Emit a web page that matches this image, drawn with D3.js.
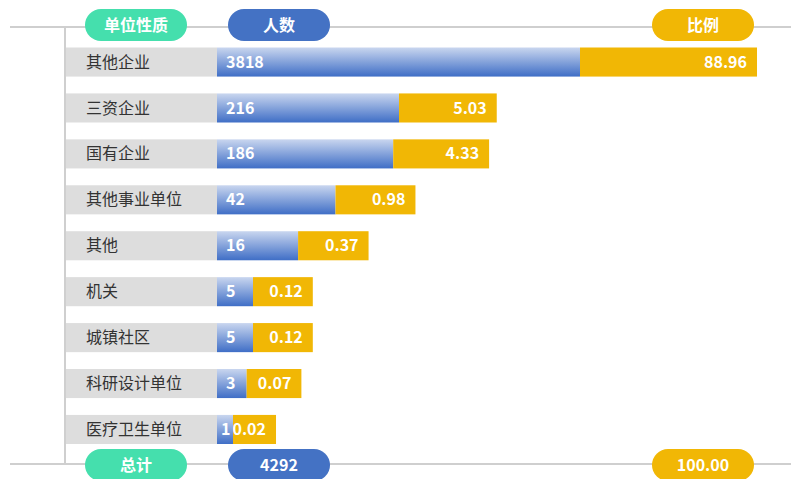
<!DOCTYPE html>
<html>
<head>
<meta charset="utf-8">
<script src="https://cdn.jsdelivr.net/npm/d3@7/dist/d3.min.js"></script>
<style>
  html, body { margin: 0; padding: 0; background: #ffffff; }
  svg { display: block; }
  text { font-family: "Noto Sans CJK SC", "Open Sans", sans-serif; }
</style>
</head>
<body>
<svg id="chart" width="801" height="479"></svg>
<script>
// Employment by unit type
const categories = ["其他企业", "三资企业", "国有企业", "其他事业单位", "其他", "机关", "城镇社区", "科研设计单位", "医疗卫生单位"];
const counts = [3818, 216, 186, 42, 16, 5, 5, 3, 1];
const ratios = [88.96, 5.03, 4.33, 0.98, 0.37, 0.12, 0.12, 0.07, 0.02];
const headers = ["单位性质", "人数", "比例"];
const footerLabel = "总计";

const totalCount = d3.sum(counts);
const totalRatio = d3.sum(ratios);

const svg = d3.select("#chart");

const colors = {
  green: "#45dfad",
  blue: "#4472c4",
  yellow: "#f1b705",
  rule: "#cfcfcf",
  rowBg: "#dddddd",
  label: "#333333"
};

// Gradient for the count bars: pale at the top, deep blue at the bottom
const defs = svg.append("defs");
const grad = defs.append("linearGradient")
  .attr("id", "blueGrad").attr("x1", 0).attr("y1", 0).attr("x2", 0).attr("y2", 1);
grad.append("stop").attr("offset", "0%").attr("stop-color", "#c9d6ef");
grad.append("stop").attr("offset", "100%").attr("stop-color", "#3f6ec6");

// Layout
const rowLeft = 66, barStart = 217;
const topRule = 27, bottomRule = 464;

const y = d3.scaleBand()
  .domain(categories)
  .range([47.5, 444])
  .paddingInner(0.367)
  .paddingOuter(0);

// Count bars: piecewise log scale so small counts stay visible
const xCount = d3.scaleLog()
  .domain([1, 5, 216, 3818])
  .range([16, 36, 182, 363]);

// Ratio bars: log part plus a linear part
const xRatioLog = d3.scaleLog().domain([0.02, 100]).range([43, 122.5]);
const xRatioLin = d3.scaleLinear().domain([0, 100]).range([0, 62.5]);
const ratioWidth = v => xRatioLog(v) + xRatioLin(v);

// Rules
svg.append("line")
  .attr("x1", 10).attr("x2", 791).attr("y1", topRule).attr("y2", topRule)
  .attr("stroke", colors.rule).attr("stroke-width", 2);
svg.append("line")
  .attr("x1", 10).attr("x2", 791).attr("y1", bottomRule).attr("y2", bottomRule)
  .attr("stroke", colors.rule).attr("stroke-width", 2);
svg.append("line")
  .attr("x1", 65).attr("x2", 65).attr("y1", topRule).attr("y2", bottomRule)
  .attr("stroke", colors.rule).attr("stroke-width", 2);

// Rows
const rows = svg.selectAll("g.row")
  .data(categories.map((c, i) => ({ cat: c, count: counts[i], ratio: ratios[i] })))
  .join("g").attr("class", "row")
  .attr("transform", d => `translate(0,${y(d.cat)})`);

const bh = y.bandwidth();

rows.append("rect")
  .attr("x", rowLeft).attr("y", 0)
  .attr("width", barStart - rowLeft).attr("height", bh)
  .attr("fill", colors.rowBg);

rows.append("text")
  .attr("x", 86).attr("y", bh / 2).attr("dy", "0.35em")
  .attr("font-size", 16).attr("fill", colors.label)
  .text(d => d.cat);

rows.append("rect")
  .attr("x", barStart).attr("y", 0)
  .attr("width", d => xCount(d.count)).attr("height", bh)
  .attr("fill", "url(#blueGrad)");

rows.append("rect")
  .attr("x", d => barStart + xCount(d.count)).attr("y", 0)
  .attr("width", d => ratioWidth(d.ratio)).attr("height", bh)
  .attr("fill", colors.yellow);

rows.append("text")
  .attr("x", d => barStart + Math.min(9, xCount(d.count) / 2 - 4)).attr("y", bh / 2).attr("dy", "0.35em")
  .attr("font-size", 16).attr("font-weight", "bold").attr("fill", "#ffffff")
  .text(d => d3.format("d")(d.count));

rows.append("text")
  .attr("x", d => barStart + xCount(d.count) + ratioWidth(d.ratio) - 10)
  .attr("y", bh / 2).attr("dy", "0.35em")
  .attr("text-anchor", "end")
  .attr("font-size", 16).attr("font-weight", "bold").attr("fill", "#ffffff")
  .text(d => d3.format(".2f")(d.ratio));

// Pills for headers and totals
const pillW = 102, pillH = 32;
const pillX = [85, 228, 652];
const pillColors = [colors.green, colors.blue, colors.yellow];

function pill(cx, cy, fill, label) {
  const g = svg.append("g");
  g.append("rect")
    .attr("x", cx).attr("y", cy - pillH / 2)
    .attr("width", pillW).attr("height", pillH)
    .attr("rx", pillH / 2).attr("ry", pillH / 2)
    .attr("fill", fill);
  g.append("text")
    .attr("x", cx + pillW / 2).attr("y", cy).attr("dy", "0.35em")
    .attr("text-anchor", "middle")
    .attr("font-size", 16).attr("font-weight", "bold").attr("fill", "#ffffff")
    .text(label);
}

headers.forEach((h, i) => pill(pillX[i], 25, pillColors[i], h));
const footers = [footerLabel, d3.format("d")(totalCount), d3.format(".2f")(totalRatio)];
footers.forEach((f, i) => pill(pillX[i], 465, pillColors[i], f));
</script>
</body>
</html>
